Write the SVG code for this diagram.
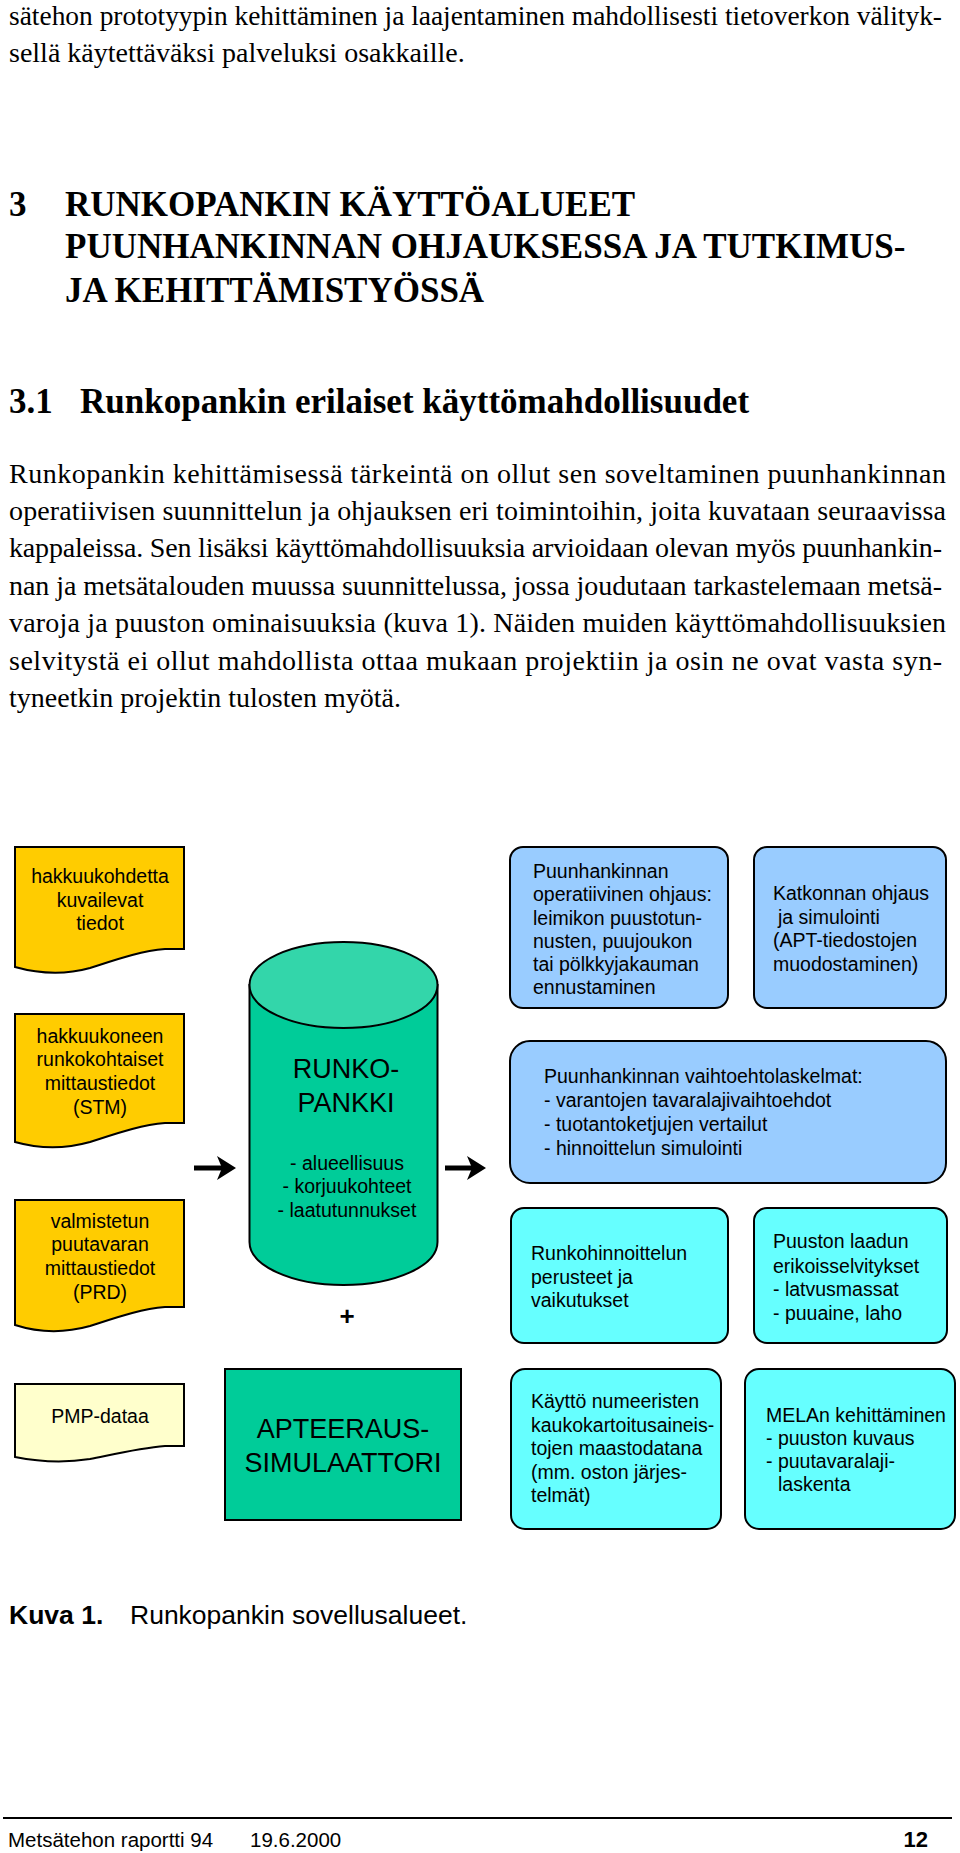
<svg xmlns="http://www.w3.org/2000/svg" width="960" height="1853" viewBox="0 0 960 1853">
<style>
.body{font-family:"Liberation Serif","Times New Roman",serif;font-size:28px;fill:#000}
.h{font-family:"Liberation Serif","Times New Roman",serif;font-size:35px;font-weight:bold;fill:#000}
.t{font-family:"Liberation Sans",Arial,sans-serif;font-size:19.5px;fill:#000}
.big{font-family:"Liberation Sans",Arial,sans-serif;font-size:27px;fill:#000}
.c{text-anchor:middle}
.sh{stroke:#000;stroke-width:2}
.yel{fill:#FFCC00}
.blue{fill:#99CCFF}
.cyan{fill:#66FFFF}
.green{fill:#00CC99}
.foot{font-family:"Liberation Sans",Arial,sans-serif;font-size:20.5px;fill:#000}
</style>
<rect width="960" height="1853" fill="#fff"/>

<g id="page-text">
<text class="body" x="9" y="25" textLength="933" lengthAdjust="spacingAndGlyphs">sätehon prototyypin kehittäminen ja laajentaminen mahdollisesti tietoverkon välityk-</text>
<text class="body" x="9" y="62">sellä käytettäväksi palveluksi osakkaille.</text>
<text class="h" x="9" y="216">3</text>
<text class="h" x="65" y="216">RUNKOPANKIN KÄYTTÖALUEET</text>
<text class="h" x="65" y="258">PUUNHANKINNAN OHJAUKSESSA JA TUTKIMUS-</text>
<text class="h" x="65" y="302">JA KEHITTÄMISTYÖSSÄ</text>
<text class="h" x="9" y="413">3.1</text>
<text class="h" x="80" y="413">Runkopankin erilaiset käyttömahdollisuudet</text>
<text class="body" x="9" y="483" textLength="937" lengthAdjust="spacing">Runkopankin kehittämisessä tärkeintä on ollut sen soveltaminen puunhankinnan</text>
<text class="body" x="9" y="520" textLength="937" lengthAdjust="spacing">operatiivisen suunnittelun ja ohjauksen eri toimintoihin, joita kuvataan seuraavissa</text>
<text class="body" x="9" y="557" textLength="933" lengthAdjust="spacing">kappaleissa. Sen lisäksi käyttömahdollisuuksia arvioidaan olevan myös puunhankin-</text>
<text class="body" x="9" y="595" textLength="933" lengthAdjust="spacing">nan ja metsätalouden muussa suunnittelussa, jossa joudutaan tarkastelemaan metsä-</text>
<text class="body" x="9" y="632" textLength="937" lengthAdjust="spacing">varoja ja puuston ominaisuuksia (kuva 1). Näiden muiden käyttömahdollisuuksien</text>
<text class="body" x="9" y="670" textLength="933" lengthAdjust="spacing">selvitystä ei ollut mahdollista ottaa mukaan projektiin ja osin ne ovat vasta syn-</text>
<text class="body" x="9" y="707">tyneetkin projektin tulosten myötä.</text>
</g>

<g id="connectors">
<path d="M194,1168 H226" stroke="#000" stroke-width="5" fill="none"/>
<path d="M236,1168 L217,1156 L222,1168 L217,1180 Z" fill="#000"/>
<path d="M445,1168 H476" stroke="#000" stroke-width="5" fill="none"/>
<path d="M486,1168 L467,1156 L472,1168 L467,1180 Z" fill="#000"/>
</g>

<g id="doc-hakkuukohde">
<path class="sh yel" d="M15,847 H184 V949 H165 C140,951 115,960 90,968 C65,975 40,974 15,967 Z"/>
<text class="t c" x="100" y="883">hakkuukohdetta</text>
<text class="t c" x="100" y="907">kuvailevat</text>
<text class="t c" x="100" y="930">tiedot</text>
</g>

<g id="doc-stm">
<path class="sh yel" d="M15,1014 H184 V1123 H165 C140,1125 115,1134 90,1142 C65,1149 40,1149 15,1142 Z"/>
<text class="t c" x="100" y="1043">hakkuukoneen</text>
<text class="t c" x="100" y="1066">runkokohtaiset</text>
<text class="t c" x="100" y="1090">mittaustiedot</text>
<text class="t c" x="100" y="1114">(STM)</text>
</g>

<g id="doc-prd">
<path class="sh yel" d="M15,1200 H184 V1307 H165 C140,1309 115,1318 90,1326 C65,1333 40,1333 15,1325 Z"/>
<text class="t c" x="100" y="1228">valmistetun</text>
<text class="t c" x="100" y="1251">puutavaran</text>
<text class="t c" x="100" y="1275">mittaustiedot</text>
<text class="t c" x="100" y="1299">(PRD)</text>
</g>

<g id="doc-pmp">
<path class="sh" fill="#FFFFCC" d="M15,1384 H184 V1446 H165 C140,1448 115,1454 90,1459 C65,1463 40,1462 15,1457 Z"/>
<text class="t c" x="100" y="1423">PMP-dataa</text>
</g>

<g id="runkopankki">
<path class="sh green" stroke-width="2.5" d="M249.5,985 V1242 A94,43 0 0 0 437.5,1242 V985 Z"/>
<ellipse class="sh" stroke-width="2.5" cx="343.5" cy="985" rx="94" ry="43" fill="#33D6AA"/>
<text class="big c" x="346" y="1078">RUNKO-</text>
<text class="big c" x="346" y="1112">PANKKI</text>
<text class="t c" x="347" y="1170">- alueellisuus</text>
<text class="t c" x="347" y="1193">- korjuukohteet</text>
<text class="t c" x="347" y="1217">- laatutunnukset</text>
</g>

<g id="plus">
<text x="347" y="1325" text-anchor="middle" font-family="Liberation Sans, Arial, sans-serif" font-size="26" font-weight="bold">+</text>
</g>

<g id="apteeraus">
<rect class="sh green" x="225" y="1369" width="236" height="151"/>
<text class="big c" x="343" y="1438">APTEERAUS-</text>
<text class="big c" x="343" y="1472">SIMULAATTORI</text>
</g>

<g id="operatiivinen">
<rect class="sh blue" x="510" y="847" width="218" height="161" rx="13" ry="13"/>
<text class="t" x="533" y="878">Puunhankinnan</text>
<text class="t" x="533" y="901">operatiivinen ohjaus:</text>
<text class="t" x="533" y="925">leimikon puustotun-</text>
<text class="t" x="533" y="948">nusten, puujoukon</text>
<text class="t" x="533" y="971">tai pölkkyjakauman</text>
<text class="t" x="533" y="994">ennustaminen</text>
</g>

<g id="katkonta">
<rect class="sh blue" x="754" y="847" width="192" height="161" rx="13" ry="13"/>
<text class="t" x="773" y="900">Katkonnan ohjaus</text>
<text class="t" x="778" y="924">ja simulointi</text>
<text class="t" x="773" y="947">(APT-tiedostojen</text>
<text class="t" x="773" y="971">muodostaminen)</text>
</g>

<g id="vaihtoehtolaskelmat">
<rect class="sh blue" x="510" y="1041" width="436" height="142" rx="20" ry="20"/>
<text class="t" x="544" y="1083">Puunhankinnan vaihtoehtolaskelmat:</text>
<text class="t" x="544" y="1107">- varantojen tavaralajivaihtoehdot</text>
<text class="t" x="544" y="1131">- tuotantoketjujen vertailut</text>
<text class="t" x="544" y="1155">- hinnoittelun simulointi</text>
</g>

<g id="runkohinnoittelu">
<rect class="sh cyan" x="511" y="1208" width="217" height="135" rx="13" ry="13"/>
<text class="t" x="531" y="1260">Runkohinnoittelun</text>
<text class="t" x="531" y="1284">perusteet ja</text>
<text class="t" x="531" y="1307">vaikutukset</text>
</g>

<g id="puuston-laatu">
<rect class="sh cyan" x="754" y="1208" width="193" height="135" rx="13" ry="13"/>
<text class="t" x="773" y="1248">Puuston laadun</text>
<text class="t" x="773" y="1273">erikoisselvitykset</text>
<text class="t" x="773" y="1296">- latvusmassat</text>
<text class="t" x="773" y="1320">- puuaine, laho</text>
</g>

<g id="kaukokartoitus">
<rect class="sh cyan" x="511" y="1369" width="210" height="160" rx="14" ry="14"/>
<text class="t" x="531" y="1408">Käyttö numeeristen</text>
<text class="t" x="531" y="1432">kaukokartoitusaineis-</text>
<text class="t" x="531" y="1455">tojen maastodatana</text>
<text class="t" x="531" y="1479">(mm. oston järjes-</text>
<text class="t" x="531" y="1502">telmät)</text>
</g>

<g id="mela">
<rect class="sh cyan" x="745" y="1369" width="210" height="160" rx="14" ry="14"/>
<text class="t" x="766" y="1422">MELAn kehittäminen</text>
<text class="t" x="766" y="1445">- puuston kuvaus</text>
<text class="t" x="766" y="1468">- puutavaralaji-</text>
<text class="t" x="778" y="1491">laskenta</text>
</g>

<g id="caption">
<text x="9" y="1624" font-family="Liberation Sans, Arial, sans-serif" font-size="26.5"><tspan font-weight="bold">Kuva 1.</tspan><tspan x="130">Runkopankin sovellusalueet.</tspan></text>
</g>

<g id="footer">
<line x1="3" y1="1818" x2="952" y2="1818" stroke="#000" stroke-width="2"/>
<text class="foot" x="8" y="1847">Metsätehon raportti 94</text>
<text class="foot" x="250" y="1847">19.6.2000</text>
<text x="928" y="1847" text-anchor="end" font-family="Liberation Sans, Arial, sans-serif" font-size="22" font-weight="bold">12</text>
</g>
</svg>
